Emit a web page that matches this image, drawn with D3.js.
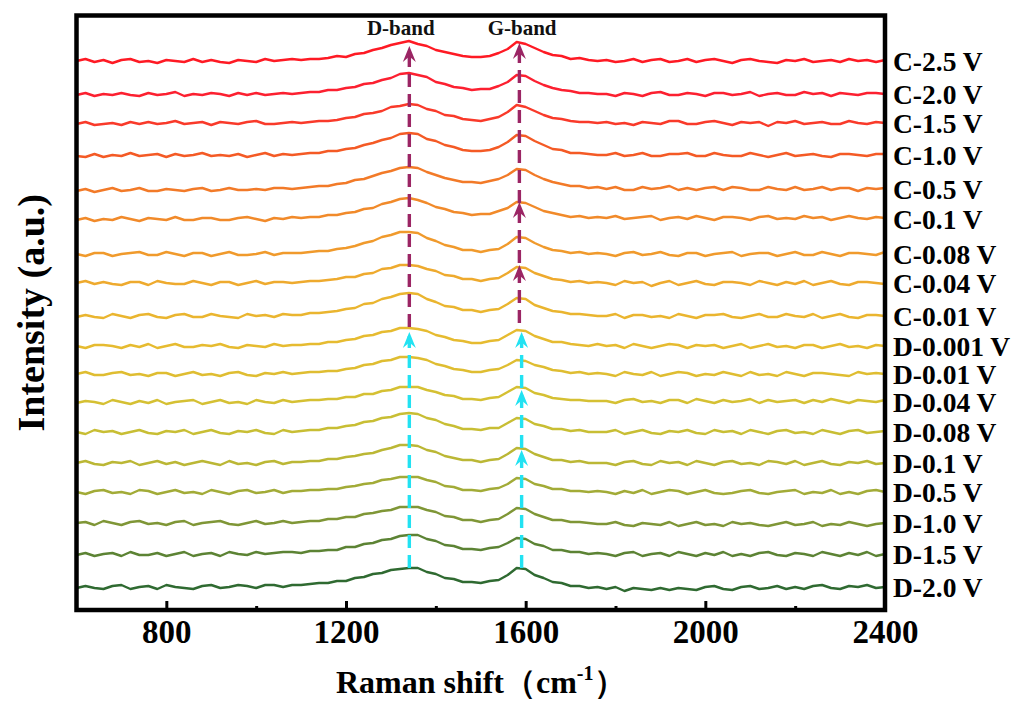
<!DOCTYPE html>
<html><head><meta charset="utf-8">
<script src="https://cdn.jsdelivr.net/npm/d3@7"></script>
<style>body{margin:0;background:#fff}svg{display:block}</style>
</head><body>
<svg id="chart" width="1017" height="702"></svg>
<script>
// ---------------- data ----------------
const seriesLabels = ["C-2.5 V","C-2.0 V","C-1.5 V","C-1.0 V","C-0.5 V","C-0.1 V","C-0.08 V","C-0.04 V","C-0.01 V",
  "D-0.001 V","D-0.01 V","D-0.04 V","D-0.08 V","D-0.1 V","D-0.5 V","D-1.0 V","D-1.5 V","D-2.0 V"];
const seriesColors = ["#fe1a24","#fc2030","#f93a2a","#f45a25","#f27a28","#f18a2a","#f09a2c","#eeaa2e","#eab52f",
  "#e6bb30","#dfbd31","#d5c033","#c8be34","#bbb735","#a2ab37","#7f9636","#5c8334","#2f6a31"];
// vertical stacking offset of each spectrum (a.u.)
const seriesOffsets = [549,516,487,455,421,391,356,327,294,264,236,208,178,147,118,87,56,23];
// Raman shift sampling: 600, 620, ... 2400 cm-1
const shiftStart = 600, shiftStep = 20;

const sC25 = [0,2,-1,1,-2,1,2,-1,0,-2,1,0,-1,2,-1,1,-1,-2,1,0,-1,2,0,1,2,
  1,2,2,3,5,4,7,8,11,13,16,18,20,17,15,11,9,7,5,4,4,5,8,12,19,17,13,9,6,5,2,3,1,0,
  1,-1,0,2,-1,1,2,-1,0,2,-1,1,2,0,-2,1,2,0,-1,-2,1,0,2,-1,0,1,-1,2,0,1,-1,1];
const sC20 = [-1,1,-2,0,-1,1,-1,-2,1,-1,0,2,-2,0,-1,1,0,-2,1,-1,1,-1,0,1,0,
  1,2,2,4,4,6,7,10,11,14,16,20,21,19,17,12,10,7,6,4,5,5,8,12,19,18,13,9,6,4,3,1,1,0,
  0,-2,1,0,-2,1,2,-1,-1,1,0,-2,1,1,-1,0,2,-2,0,1,-1,-1,2,0,1,-2,1,0,-1,1,1,0];
const sC15 = [-1,1,-2,-1,0,-2,1,-1,1,-1,0,2,-1,0,1,-2,1,0,-1,1,2,-1,-1,0,1,
  0,1,2,2,3,5,6,9,10,12,16,17,19,18,14,12,8,7,4,3,2,4,6,11,18,16,12,8,5,4,2,1,1,0,
  1,-1,0,-2,1,0,-1,2,2,-1,-1,1,2,0,-2,1,0,1,-3,1,0,2,-1,0,1,-1,-1,2,0,-1,1,0];
const sC10 = [-1,-2,1,-2,0,-1,2,-1,0,1,-2,1,-1,0,2,-1,0,-1,1,-2,0,2,-1,1,0,
  1,2,2,4,4,6,7,10,12,15,17,21,22,21,16,14,10,8,5,4,4,5,8,13,20,19,14,10,6,5,2,2,1,0,
  0,2,-1,0,2,-1,-1,1,1,2,-1,-1,2,0,-1,-1,2,0,-2,0,2,-1,0,1,-1,-2,1,1,0,-1,1,1];
const sC05 = [-2,0,-3,-1,1,-2,-1,1,-2,-2,0,-1,-2,0,1,-2,-1,1,-1,-1,0,-1,1,1,0,
  1,2,3,3,5,6,9,10,13,16,18,21,22,21,17,14,11,9,7,7,6,8,10,14,20,19,14,10,7,5,3,3,1,2,
  0,2,-1,-1,2,0,1,3,-1,1,-1,1,2,-1,2,1,-1,-1,2,0,-1,2,-1,0,2,-1,1,1,-2,1,0,1];
const sC01 = [-1,1,-2,0,-1,2,0,-2,1,0,-1,2,-1,-1,1,1,-1,-1,1,2,0,-2,1,0,2,
  1,2,2,4,4,6,7,10,11,15,17,20,21,19,16,12,10,7,6,4,5,5,8,11,17,16,12,8,6,4,2,3,1,2,
  1,3,0,1,2,3,-1,1,2,0,3,1,-1,2,2,1,-1,2,3,0,1,0,3,1,2,-1,1,3,1,0,2,1];
const sC008 = [0,-2,1,1,-2,0,1,2,-1,-1,2,0,-2,1,1,-2,0,2,-1,-1,0,2,-1,1,1,
  1,2,3,3,5,6,8,11,13,17,19,22,22,21,16,13,9,7,4,4,2,4,5,10,17,16,11,7,4,3,1,2,0,1,
  0,-2,1,2,-1,0,2,-1,-2,1,1,-2,0,1,2,-2,0,1,1,-2,0,2,-1,-1,2,0,-2,1,1,0,-1,2];
const sC004 = [0,2,-1,1,-1,-2,1,1,-2,2,0,-1,-1,2,0,-2,1,1,-2,0,2,-1,1,1,0,
  1,2,2,3,4,6,6,9,10,14,15,18,18,17,14,12,8,7,4,4,2,4,5,10,16,15,10,7,4,3,1,2,0,1,
  0,-2,2,0,1,-3,0,2,-2,0,2,-1,-2,1,1,0,-2,2,0,-2,1,-1,2,-2,0,2,-1,-2,1,1,0,-1];
const sC001 = [-1,1,-1,-2,2,0,-2,1,2,-1,-2,1,2,-1,-1,2,0,-1,-2,2,0,1,-1,2,1,
  1,3,3,4,5,7,8,12,13,17,19,22,23,22,17,14,10,9,6,6,4,6,7,12,18,17,11,8,5,4,2,2,1,0,
  0,2,-2,1,1,-1,0,-2,2,0,-2,1,1,2,-1,-2,0,2,-1,-1,2,0,-1,2,-2,0,2,-1,-2,1,1,0];
const sD0001 = [0,-2,1,1,0,-2,1,-1,2,-2,0,2,-1,-1,1,0,2,-1,-2,1,0,-1,2,0,1,
  1,2,2,4,4,6,7,10,11,14,15,18,18,17,15,11,9,6,5,3,3,5,6,11,16,15,10,7,4,4,2,1,0,2,
  0,1,-2,2,0,-2,0,2,1,-2,1,0,1,-2,0,2,-2,0,2,-1,0,-2,1,1,-2,0,2,-1,0,-2,1,0];
const sD001 = [0,2,-1,-1,1,2,-1,0,-2,1,1,-2,0,2,-1,0,-2,1,2,-1,-2,1,0,2,0,
  1,2,2,3,3,5,6,9,10,13,14,17,17,16,14,10,8,5,4,2,2,4,5,9,14,13,9,7,4,3,1,2,0,1,
  0,-2,2,0,-1,2,-2,0,2,1,-2,0,-1,2,0,-2,2,-1,0,-2,2,0,-2,1,1,0,-1,-2,2,0,1,0];
const sD004 = [-1,1,0,-2,2,0,-2,1,-1,2,-2,0,1,2,-2,0,2,-1,0,-2,2,0,-1,2,0,
  1,2,2,3,3,5,5,8,8,11,12,15,15,15,12,10,7,6,3,3,2,4,5,10,15,14,9,7,4,3,2,2,1,1,
  1,-1,2,3,0,1,-1,2,2,-1,3,1,-1,2,0,1,3,-1,2,0,1,2,-1,2,0,3,1,-1,2,1,0,2];
const sD008 = [0,-2,2,0,1,-2,0,2,-1,-2,1,0,2,-2,0,2,-1,-2,1,0,2,-1,-2,2,0,
  1,2,2,4,4,6,7,10,11,14,15,18,19,18,14,12,8,6,3,3,2,4,4,9,14,13,8,6,3,3,1,2,0,0,
  0,2,-2,0,2,-1,-2,1,0,2,-1,-2,2,0,1,-2,2,0,-2,1,2,-1,0,-2,2,0,-2,1,2,-1,0,1];
const sD01 = [0,2,-1,-2,1,0,2,-2,0,2,-1,1,-2,0,2,0,-2,2,-1,0,-2,1,2,-1,1,
  1,2,2,4,4,6,7,9,10,13,15,18,18,17,13,11,7,5,3,3,1,3,4,9,15,14,9,6,3,3,1,2,0,0,
  0,-2,1,2,-1,-2,2,0,1,-2,2,0,-2,1,2,-1,0,-2,2,1,-1,2,-2,0,2,-1,-2,1,0,2,-1,0];
const sD05 = [0,-2,1,2,-1,0,-2,2,1,-2,0,2,-1,0,-2,2,0,-2,1,2,-1,0,2,-1,1,
  1,2,2,3,3,5,6,8,9,12,13,15,15,15,12,10,6,5,2,2,1,3,4,8,14,13,8,6,3,3,1,1,0,1,
  0,-2,1,-1,2,-2,0,2,1,-2,0,2,-1,-2,-1,1,2,-1,-2,0,1,2,-2,0,-1,2,-2,0,-2,1,2,0];
const sD10 = [0,1,-2,2,0,-2,1,2,-1,0,-2,1,2,-2,0,1,2,-1,-2,0,2,-1,0,2,0,
  1,2,2,4,4,6,6,9,10,12,13,16,16,16,13,11,7,6,3,3,1,3,4,9,15,14,9,6,3,3,1,1,0,-1,
  -1,1,-2,-3,0,-1,-2,1,-3,-1,1,-2,-1,-3,1,-1,0,-2,-3,-1,1,-2,-1,1,-3,-1,-2,1,-1,-3,-1,0];
const sD15 = [-1,1,-2,0,1,-2,2,-1,-1,1,-2,0,2,-2,0,1,-2,2,0,-1,2,0,1,2,2,
  1,3,3,4,4,7,7,10,11,14,15,18,19,19,15,13,9,8,5,5,4,6,7,11,16,15,10,8,4,4,2,2,0,1,
  0,-2,1,2,-2,0,1,-2,2,0,-2,1,-1,2,-2,0,-2,1,2,-1,-2,1,0,-2,2,0,-2,1,-1,2,-2,0];
const sD20 = [-1,1,-1,-2,1,2,-2,0,1,-2,2,0,-1,-2,1,2,-1,0,2,1,-1,2,2,0,2,
  2,3,4,4,6,6,9,10,13,14,17,18,19,19,15,13,9,8,5,5,4,6,7,12,19,18,12,9,5,4,1,1,-1,0,
  -2,0,-4,-1,-2,-3,-1,-3,-1,-2,-3,0,1,-2,-3,0,1,-2,-1,1,-2,0,-2,1,2,-1,-2,1,0,2,-1,0];
const spectra = [sC25,sC20,sC15,sC10,sC05,sC01,sC008,sC004,sC001,sD0001,sD001,sD004,sD008,sD01,sD05,sD10,sD15,sD20];

const xDomain = [600, 2400];
const xTicksMajor = [800, 1200, 1600, 2000, 2400];
const xTicksMinor = [1000, 1400, 1800, 2200];
const bandNames = ["D-band", "G-band"];
const bandLabelShift = [1322, 1592];
const bandLabelLevel = 575;
// dashed guide lines (shift, from, to) in a.u.
const guideShift = [1341, 1586, 1341, 1591];
const guideFrom = [283, 287, 42, 42];
const guideTo = [560, 563, 274, 274];
const guideKind = ["charge", "charge", "discharge", "discharge"];
// arrow heads (shift, tip level)
const headShift = [1341, 1586, 1586, 1586, 1341, 1591, 1591, 1591];
const headLevel = [564, 567, 408, 345, 278, 278, 220, 160];
const headKind = ["charge","charge","charge","charge","discharge","discharge","discharge","discharge"];
const kindColor = {charge: "#9b2564", discharge: "#22e2f2"};

// ---------------- drawing ----------------
const svg = d3.select("#chart");
const L = 76.5, R = 885, T = 15.5, B = 610;
const x = d3.scaleLinear().domain(xDomain).range([L, R]);
const y = d3.scaleLinear().domain([0, B - T]).range([B, T]);
const FONT = "'Liberation Serif','Times New Roman',serif";

const shifts = d3.range(spectra[0].length).map(i => shiftStart + i * shiftStep);
const line = d3.line().x(d => x(d[0])).y(d => y(d[1])).curve(d3.curveLinear);

const gSpec = svg.append("g");
spectra.forEach((s, k) => {
  gSpec.append("path")
    .attr("d", line(s.map((v, i) => [shifts[i], v + seriesOffsets[k]])))
    .attr("fill", "none").attr("stroke", seriesColors[k])
    .attr("stroke-width", 2.4).attr("stroke-linejoin", "round");
});

// guide lines
guideShift.forEach((gx, i) => {
  svg.append("line")
    .attr("x1", x(gx)).attr("x2", x(gx))
    .attr("y1", y(guideFrom[i])).attr("y2", y(guideTo[i]))
    .attr("stroke", kindColor[guideKind[i]]).attr("stroke-width", 3.4)
    .attr("stroke-dasharray", "13,7");
});
headShift.forEach((hx, i) => {
  svg.append("path")
    .attr("d", "M0,0 L6.5,16 L0,10.5 L-6.5,16 Z")
    .attr("transform", `translate(${x(hx)},${y(headLevel[i])})`)
    .attr("fill", kindColor[headKind[i]]);
});

// band labels
bandNames.forEach((t, i) => {
  svg.append("text").attr("x", x(bandLabelShift[i])).attr("y", y(bandLabelLevel))
    .attr("text-anchor", "middle").attr("font-family", FONT).attr("font-weight", "bold")
    .attr("font-size", 21).attr("fill", "#111").text(t);
});

// series labels
seriesLabels.forEach((t, k) => {
  svg.append("text").attr("x", 893).attr("y", y(seriesOffsets[k])).attr("dy", "0.35em")
    .attr("font-family", FONT).attr("font-weight", "bold").attr("font-size", 27.5)
    .attr("fill", "#000").text(t);
});

// axis ticks
const xAxis = d3.axisBottom(x).tickValues(xTicksMajor).tickSize(-9).tickPadding(14)
  .tickFormat(d3.format("d"));
const gx = svg.append("g").attr("transform", `translate(0,${B})`).call(xAxis);
gx.select(".domain").remove();
gx.selectAll(".tick line").attr("stroke", "#000").attr("stroke-width", 3);
gx.selectAll(".tick text").attr("font-family", FONT).attr("font-weight", "bold")
  .attr("font-size", 33).attr("fill", "#000").attr("dy", "0.71em").attr("y", 10);
const gxm = svg.append("g").attr("transform", `translate(0,${B})`)
  .call(d3.axisBottom(x).tickValues(xTicksMinor).tickSize(-4).tickFormat(""));
gxm.select(".domain").remove();
gxm.selectAll(".tick line").attr("stroke", "#000").attr("stroke-width", 3);

// frame
svg.append("rect").attr("x", L).attr("y", T).attr("width", R - L).attr("height", B - T)
  .attr("fill", "none").attr("stroke", "#000").attr("stroke-width", 4.5);

// axis titles
const xt = svg.append("text").attr("x", (L + R) / 2).attr("y", 693).attr("text-anchor", "middle")
  .attr("font-family", FONT).attr("font-weight", "bold").attr("font-size", 32).attr("fill", "#000");
xt.append("tspan").text("Raman shift（cm");
xt.append("tspan").attr("dy", -13).attr("font-size", 20).text("-1");
xt.append("tspan").attr("dy", 13).text("）");

svg.append("text").attr("transform", `translate(44,${(T + B) / 2}) rotate(-90)`)
  .attr("text-anchor", "middle").attr("font-family", FONT).attr("font-weight", "bold")
  .attr("font-size", 38).attr("fill", "#000").text("Intensity (a.u.)");
</script>
</body></html>
